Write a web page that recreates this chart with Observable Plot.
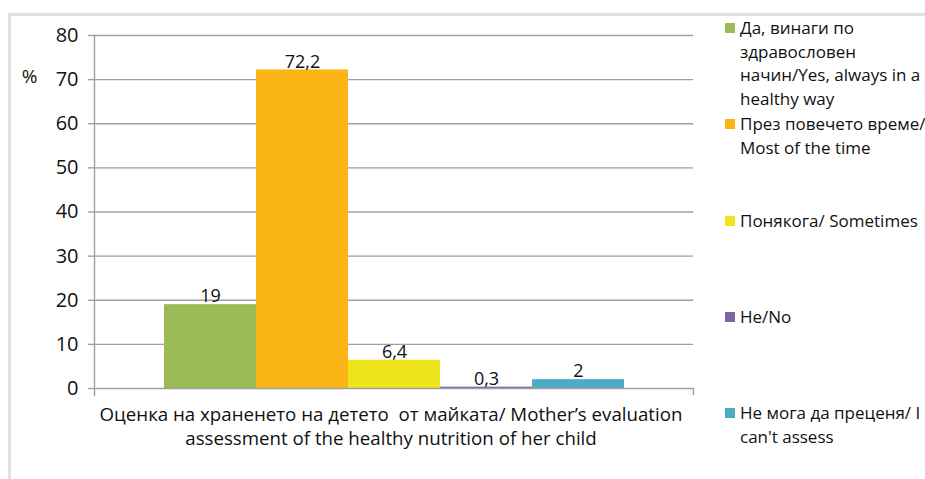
<!DOCTYPE html>
<html>
<head>
<meta charset="utf-8">
<script src="https://cdn.jsdelivr.net/npm/d3@7"></script>
<script src="https://cdn.jsdelivr.net/npm/@observablehq/plot@0.6"></script>
<style>
  body { margin: 0; background: #fff; }
  #chart { position: relative; width: 925px; height: 479px; overflow: hidden; background: #fff;
           font-family: "Open Sans", sans-serif; color: #111; }
  #border { position: absolute; left: 8px; top: 13px; width: 1000px; height: 600px;
            border: 3px solid #e0e0e0; box-sizing: border-box; }
  #plot { position: absolute; left: 0; top: 0; }
  #plot text { white-space: pre; }
  .entry { position: absolute; left: 725px; font-size: 17px; line-height: 23.5px; white-space: nowrap; }
  .swatch { position: absolute; left: 0; top: 7px; width: 10px; height: 10px; }
  .label { position: absolute; left: 15px; top: 0; }
</style>
</head>
<body>
<div id="chart">
  <div id="border"></div>
  <div id="plot"></div>
  <div id="legend"></div>
</div>
<script>
// Category (single group) and its two-line caption
const categoryLines = [
  "Оценка на храненето на детето  от майката/ Mother’s evaluation",
  "assessment of the healthy nutrition of her child"
];

// Answer options, as they wrap in the legend
const seriesLines = [
  ["Да, винаги по", "здравословен", "начин/Yes, always in a", "healthy way"],
  ["През повечето време/", "Most of the time"],
  ["Понякога/ Sometimes"],
  ["Не/No"],
  ["Не мога да преценя/ I", "can't assess"]
];

// Share of mothers per answer, %
const values = [19, 72.2, 6.4, 0.3, 2];
const valueLabels = ["19", "72,2", "6,4", "0,3", "2"];

const colors = ["#9bbb59", "#fbb616", "#f0e41c", "#8064a2", "#4bacc6"];
const yTicks = [0, 10, 20, 30, 40, 50, 60, 70, 80];

const series = seriesLines.map(lines => lines.join(" "));
const rows = series.map((s, i) => ({series: s, value: values[i], label: valueLabels[i]}));
const axisColor = "#a59c9c";

const chart = Plot.plot({
  width: 720,
  height: 479,
  marginLeft: 94,
  marginRight: 27,
  marginTop: 35,
  marginBottom: 91,
  style: {fontFamily: "'Open Sans', sans-serif", fontSize: "17px", color: "#111", background: "transparent"},
  x: {domain: series, paddingInner: 0, paddingOuter: 0.75, axis: null},
  y: {domain: [0, 80]},
  color: {domain: series, range: colors},
  marks: [
    Plot.gridY(yTicks.filter(d => d > 0), {stroke: axisColor, strokeOpacity: 1, strokeWidth: 1.4}),
    Plot.axisY(yTicks, {tickSize: 6, tickPadding: 10, stroke: axisColor, strokeWidth: 1.4, label: null, fontSize: 20}),
    Plot.barY(rows, {x: "series", y: "value", fill: "series"}),
    Plot.ruleY([0], {stroke: axisColor, strokeWidth: 1.4}),
    Plot.frame({anchor: "left", stroke: axisColor, strokeWidth: 1.4, insetBottom: -7}),
    Plot.frame({anchor: "right", stroke: axisColor, strokeWidth: 1.4, insetTop: 353, insetBottom: -6}),
    Plot.text(rows, {x: "series", y: "value", text: "label", lineAnchor: "middle", dy: -8, fontSize: 18}),
    Plot.text([categoryLines.join("\n")], {text: d => d, frameAnchor: "bottom", lineAnchor: "middle", dx: -3, dy: 37, lineHeight: 1.3, fontSize: 18.7}),
    Plot.text([{v: 70, t: "%"}], {y: "v", text: "t", frameAnchor: "left", dx: -65, dy: -3, textAnchor: "middle", fontSize: 19})
  ]
});
document.getElementById("plot").append(chart);

// Legend: one slot per answer, swatch beside the first line
const legend = document.getElementById("legend");
seriesLines.forEach((lines, i) => {
  const entry = document.createElement("div");
  entry.className = "entry";
  entry.style.top = (16 + i * 96.3) + "px";
  const swatch = document.createElement("div");
  swatch.className = "swatch";
  swatch.style.background = colors[i];
  const label = document.createElement("div");
  label.className = "label";
  label.innerHTML = lines.map(l => l.replace(/&/g, "&amp;").replace(/</g, "&lt;")).join("<br>");
  entry.append(swatch, label);
  legend.append(entry);
});
</script>
</body>
</html>
